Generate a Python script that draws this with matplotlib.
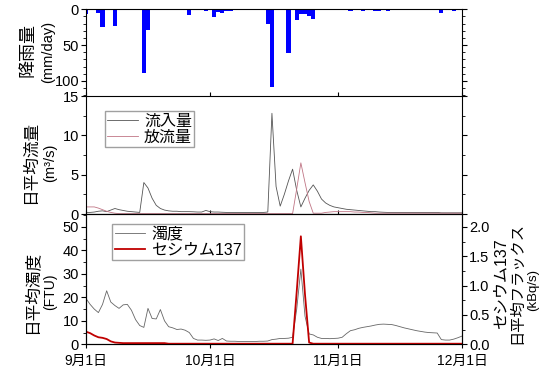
import matplotlib
matplotlib.use("Agg")
import matplotlib.pyplot as plt
from matplotlib.ticker import MultipleLocator, FormatStrFormatter

plt.rcParams['font.family'] = ['Liberation Sans', 'Noto Sans CJK JP']

# --- data (day 0 = Sep 1, day 91 = Dec 1) ---
rain_days = [0, 3, 4, 7, 14, 15, 25, 29, 30, 31, 32, 33, 34, 35, 44, 45, 49,
             51, 52, 53, 54, 55, 64, 67, 70, 71, 73, 85, 86, 89]
rain_mm = [6, 5, 25, 24, 89, 29, 8, 2, 1, 11, 4, 5, 2, 2, 20, 108, 61,
           15, 7, 7, 10, 14, 3, 2, 3, 2, 2, 1, 5, 2]

inflow = [0.2, 0.2, 0.25, 0.35, 0.4, 0.3, 0.5, 0.7, 0.55, 0.45,
          0.35, 0.3, 0.25, 0.2, 4.0, 3.3, 2.0, 1.1, 0.7, 0.5,
          0.4, 0.35, 0.35, 0.3, 0.3, 0.3, 0.28, 0.25, 0.25, 0.45,
          0.3, 0.25, 0.25, 0.22, 0.2, 0.2, 0.2, 0.2, 0.2, 0.2,
          0.2, 0.2, 0.2, 0.2, 0.25, 12.8, 3.5, 1.0, 2.5, 4.2,
          5.7, 3.0, 0.9, 2.0, 3.0, 3.7, 2.9, 1.9, 1.4, 1.1,
          0.9, 0.8, 0.7, 0.6, 0.55, 0.5, 0.45, 0.4, 0.35, 0.3,
          0.3, 0.25, 0.22, 0.2, 0.2, 0.2, 0.2, 0.2, 0.2, 0.2,
          0.2, 0.2, 0.2, 0.2, 0.2, 0.2, 0.15, 0.15, 0.15, 0.15,
          0.15, 0.15]
outflow = [0.9, 0.9, 0.9, 0.75, 0.55, 0.35, 0.2, 0.1, 0.05, 0.05,
           0.05, 0.05, 0.05, 0.05, 0.05, 0.05, 0.05, 0.05, 0.05, 0.05,
           0.05, 0.05, 0.05, 0.05, 0.05, 0.05, 0.05, 0.05, 0.05, 0.05,
           0.05, 0.05, 0.05, 0.05, 0.05, 0.05, 0.05, 0.05, 0.05, 0.05,
           0.05, 0.05, 0.05, 0.05, 0.05, 0.05, 0.05, 0.05, 0.05, 0.05,
           0.05, 3.2, 6.5, 4.0, 1.6, 0.1, 0.1, 0.1, 0.2, 0.25,
           0.3, 0.3, 0.3, 0.3, 0.3, 0.25, 0.25, 0.2, 0.2, 0.15,
           0.1, 0.1, 0.1, 0.1, 0.1, 0.1, 0.1, 0.1, 0.1, 0.1,
           0.1, 0.1, 0.1, 0.1, 0.1, 0.1, 0.1, 0.1, 0.1, 0.1,
           0.1, 0.1]

turbidity = [19.5, 17, 15, 13.5, 17, 22.8, 18, 16.5, 15.3, 16.8,
             17, 14.5, 10.5, 8, 7.2, 15.3, 11, 10.8, 14.8, 10,
             7.5, 7, 6.3, 6.5, 6, 5, 2.5, 1.8, 1.8, 1.7,
             1.8, 2.3, 1.6, 2.5, 1.4, 1.3, 1.3, 1.2, 1.2, 1.2,
             1.2, 1.2, 1.3, 1.3, 1.4, 2.0, 2.2, 2.5, 2.5, 2.6,
             3.0, 15, 32, 12, 4.4, 4.0, 3, 2.5, 2.5, 2.4,
             2.5, 2.6, 3, 4.5, 5.8, 6.2, 6.8, 7.2, 7.5, 7.8,
             8.2, 8.5, 8.6, 8.5, 8.4, 8.0, 7.5, 7.0, 6.6, 6.2,
             5.8, 5.5, 5.2, 5.0, 4.9, 4.8, 2.0, 1.8, 1.8, 2.2,
             2.8, 3.5]
cesium = [0.215, 0.19, 0.15, 0.12, 0.11, 0.09, 0.05, 0.03, 0.025, 0.02,
          0.02, 0.02, 0.02, 0.02, 0.02, 0.02, 0.02, 0.02, 0.02, 0.02,
          0.01, 0.01, 0.01, 0.01, 0.01, 0.01, 0.01, 0.01, 0.01, 0.01,
          0.01, 0.01, 0.01, 0.01, 0.01, 0.01, 0.01, 0.01, 0.01, 0.01,
          0.01, 0.01, 0.01, 0.01, 0.01, 0.01, 0.01, 0.01, 0.01, 0.01,
          0.01, 0.9, 1.84, 0.85, 0.03, 0.01, 0.01, 0.01, 0.01, 0.01,
          0.01, 0.01, 0.01, 0.01, 0.01, 0.01, 0.01, 0.01, 0.01, 0.01,
          0.01, 0.01, 0.01, 0.01, 0.01, 0.01, 0.01, 0.01, 0.01, 0.01,
          0.01, 0.01, 0.01, 0.01, 0.01, 0.01, 0.01, 0.01, 0.01, 0.01,
          0.01, 0.01]

days = list(range(len(inflow)))
xtick_pos = [0, 30, 61, 91]
xtick_labels = ['9月1日', '10月1日', '11月1日', '12月1日']

fig = plt.figure(figsize=(5.5, 3.86), dpi=100)
L, W = 86 / 550, 376 / 550
ax1 = fig.add_axes([L, 1 - 96 / 386, W, (96 - 9.3) / 386])
ax2 = fig.add_axes([L, 1 - 214 / 386, W, 118 / 386], sharex=ax1)
ax3 = fig.add_axes([L, 1 - 344.3 / 386, W, 130.3 / 386], sharex=ax1)

for ax in (ax1, ax2, ax3):
    for s in ax.spines.values():
        s.set_linewidth(0.8)
    ax.tick_params(axis='y', which='both', direction='out', labelsize=10.5,
                   pad=1.5, right=True)
    ax.tick_params(axis='y', which='major', length=3.5)
    ax.tick_params(axis='y', which='minor', length=2)
    ax.tick_params(axis='x', direction='in', length=3, labelbottom=False)

# rainfall
ax1.bar(rain_days, rain_mm, width=1.0, color='#0000ff', edgecolor='none')
ax1.set_ylim(121, 0)
ax1.yaxis.set_major_locator(MultipleLocator(50))
ax1.yaxis.set_minor_locator(MultipleLocator(10))
ax1.spines['bottom'].set_visible(False)

leg_kw = dict(loc='upper left', fontsize=11.5, frameon=True, fancybox=False,
              edgecolor='#888888', handlelength=1.9, borderpad=0.15,
              labelspacing=0.05, handletextpad=0.4, borderaxespad=0)

# flow
ax2.plot(days, inflow, color='#555555', lw=0.6, label='流入量')
ax2.plot(days, outflow, color='#c07585', lw=0.6, label='放流量')
ax2.set_ylim(0, 15)
ax2.yaxis.set_major_locator(MultipleLocator(5))
ax2.yaxis.set_minor_locator(MultipleLocator(2.5))
ax2.legend(bbox_to_anchor=(0.05, 0.87), **leg_kw)

# turbidity + cesium flux
l1, = ax3.plot(days, turbidity, color='#666666', lw=0.6, label='濁度')
ax3.set_ylim(0, 55.5)
ax3.yaxis.set_major_locator(MultipleLocator(10))
ax3.yaxis.set_minor_locator(MultipleLocator(5))
ax3.tick_params(axis='y', right=False)
ax3.tick_params(axis='x', direction='out', length=3, labelbottom=True,
                labelsize=10, pad=4)
ax3b = ax3.twinx()
l2, = ax3b.plot(days, cesium, color='#c00000', lw=1.3, label='セシウム137')
ax3b.set_ylim(0, 55.5 / 25)
ax3b.yaxis.set_major_locator(MultipleLocator(0.5))
ax3b.yaxis.set_minor_locator(MultipleLocator(0.25))
ax3b.yaxis.set_major_formatter(FormatStrFormatter('%.1f'))
ax3b.tick_params(axis='y', which='both', direction='out', labelsize=10.5, pad=1.5)
ax3b.tick_params(axis='y', which='major', length=3.5)
ax3b.tick_params(axis='y', which='minor', length=2)
ax3.legend([l1, l2], ['濁度', 'セシウム137'], bbox_to_anchor=(0.07, 0.92), **leg_kw)

ax1.set_xlim(0, 91)
ax3.set_xticks(xtick_pos)
ax3.set_xticklabels(xtick_labels)

# axis titles
fig.text(28 / 550, 1 - 50 / 386, '降雨量', rotation=90, ha='center', va='center', fontsize=13)
fig.text(48 / 550, 1 - 52 / 386, '(mm/day)', rotation=90, ha='center', va='center', fontsize=10.5)
fig.text(30 / 550, 1 - 162 / 386, '日平均流量', rotation=90, ha='center', va='center', fontsize=12)
fig.text(50 / 550, 1 - 163 / 386, '(m³/s)', rotation=90, ha='center', va='center', fontsize=10.5)
fig.text(31 / 550, 1 - 292 / 386, '日平均濁度', rotation=90, ha='center', va='center', fontsize=12)
fig.text(50 / 550, 1 - 292 / 386, '(FTU)', rotation=90, ha='center', va='center', fontsize=10)
fig.text(501 / 550, 1 - 284 / 386, 'セシウム137', rotation=90, ha='center', va='center', fontsize=11.5)
fig.text(517 / 550, 1 - 283 / 386, '日平均フラックス', rotation=90, ha='center', va='center', fontsize=11)
fig.text(533 / 550, 1 - 290 / 386, '(kBq/s)', rotation=90, ha='center', va='center', fontsize=9.5)

fig.savefig('out.png', dpi=100)
